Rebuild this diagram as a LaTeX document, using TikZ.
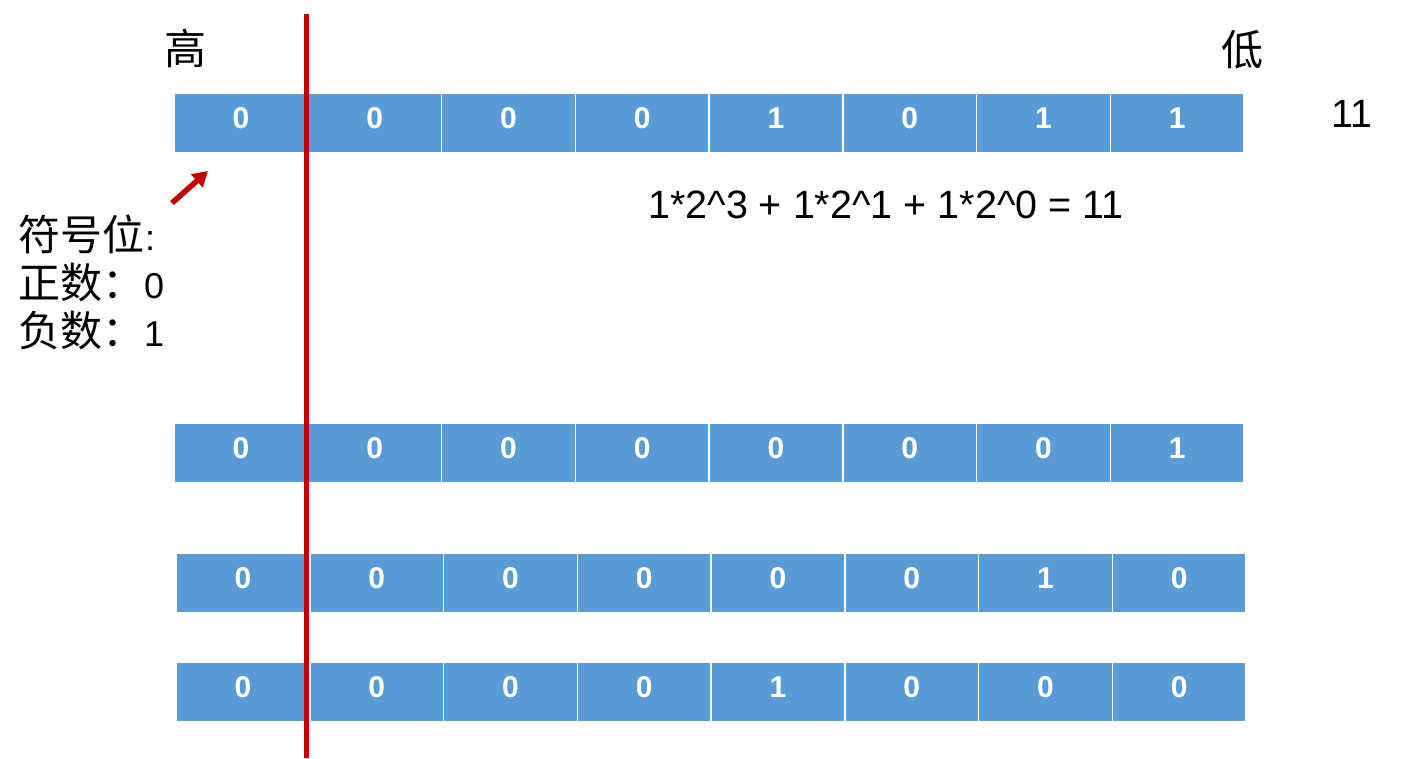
\documentclass[tikz,border=0pt]{standalone}
\usepackage{fontspec}
\setmainfont{Liberation Sans}
\newfontfamily\cjk{Noto Sans CJK SC}
\usepackage{tikz}
\usetikzlibrary{arrows.meta}
\definecolor{cellblue}{HTML}{5B9BD5}
\definecolor{signred}{HTML}{C00000}

\begin{document}
\begin{tikzpicture}[x = 1pt, y = -1pt,
    bit/.style = {draw = white, line width = 1.5pt, fill = cellblue, text = white,
      minimum width = 133.75pt, minimum height = 60pt, inner sep = 0pt,
      text height = 21pt, text depth = 11pt, font = \bfseries\fontsize{30}{30}\selectfont},
    zh/.style = {font = \cjk\fontsize{42}{46}\selectfont},
    big/.style = {font = \fontsize{39.5}{46}\selectfont},
    side/.style = {font = \fontsize{36}{46}\selectfont, anchor = base west, inner sep = 0pt}]
  \useasboundingbox (0, 0) rectangle (1418, 758);
  % bit rows
  \foreach \r/\x/\y/\bits in {1/174/123/{0,0,0,0,1,0,1,1}, 2/174/453/{0,0,0,0,0,0,0,1},
      3/176/583/{0,0,0,0,0,0,1,0}, 4/176/692/{0,0,0,0,1,0,0,0}}
    \foreach \b [count = \i] in \bits
      \node [bit] (r\r c\i) at (\x + 133.75*\i - 66.875, \y) {\b};
  % sign bit line
  \coordinate (top) at (306, 14);
  \coordinate (bottom) at (306, 758);
  \draw [signred, line width = 5pt] (top) -- (bottom);
  % arrow to the sign bit
  \coordinate (tail) at (172, 203);
  \coordinate (tip) at (208, 171);
  \draw [signred, line width = 5.5pt, -{Triangle[length = 15pt, width = 17pt]}] (tail) -- (tip);
  % labels
  \node [zh] (high) at (185, 48) {高};
  \node [zh] (low) at (1242, 50) {低};
  \node [big, anchor = base] (value) at (1352, 127) {11};
  \node [big, anchor = base] (sum) at (886, 218)
    {1*2\textasciicircum{}3 + 1*2\textasciicircum{}1 + 1*2\textasciicircum{}0 = 11};
  \node [side] (sign) at (18, 250) {{\cjk\fontsize{42}{46}\selectfont 符号位}\kern1pt:};
  \node [side] (pos) at (18, 298) {{\cjk\fontsize{42}{46}\selectfont 正数：}0};
  \node [side] (neg) at (18, 346) {{\cjk\fontsize{42}{46}\selectfont 负数：}1};
\end{tikzpicture}
\end{document}
